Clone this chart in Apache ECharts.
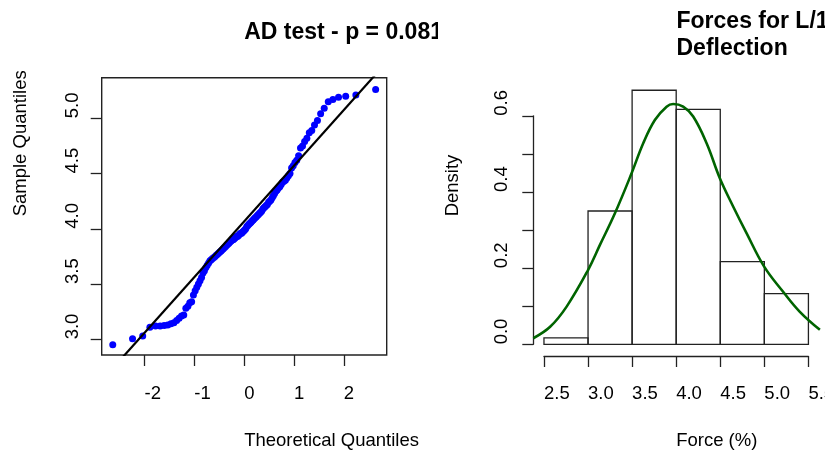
<!DOCTYPE html>
<html>
<head>
<meta charset="utf-8">
<script src="https://cdn.jsdelivr.net/npm/echarts@6/dist/echarts.min.js"></script>
<style>
html,body{margin:0;padding:0;background:#fff;}
#chart{width:825px;height:452px;}
</style>
</head>
<body>
<div id="chart"></div>
<script>
// ---------- data ----------
const qqTheoretical = [
-2.638,-2.241,-2.037,-1.893,-1.780,-1.687,-1.606,-1.534,-1.470,-1.411,
-1.356,-1.306,-1.258,-1.213,-1.171,-1.130,-1.092,-1.055,-1.019,-0.984,
-0.951,-0.919,-0.887,-0.856,-0.827,-0.798,-0.769,-0.742,-0.714,-0.687,
-0.661,-0.636,-0.610,-0.585,-0.561,-0.536,-0.512,-0.489,-0.465,-0.442,
-0.419,-0.396,-0.374,-0.352,-0.330,-0.308,-0.286,-0.264,-0.243,-0.221,
-0.200,-0.179,-0.157,-0.136,-0.115,-0.094,-0.073,-0.052,-0.031,-0.010,
0.010,0.031,0.052,0.073,0.094,0.115,0.136,0.157,0.179,0.200,
0.221,0.243,0.264,0.286,0.308,0.330,0.352,0.374,0.396,0.419,
0.442,0.465,0.489,0.512,0.536,0.561,0.585,0.610,0.636,0.661,
0.687,0.714,0.742,0.769,0.798,0.827,0.856,0.887,0.919,0.951,
0.984,1.019,1.055,1.092,1.130,1.171,1.213,1.258,1.306,1.356,
1.411,1.470,1.534,1.606,1.687,1.780,1.893,2.037,2.241,2.638
];
const qqSample = [
2.95,3.005,3.03,3.11,3.12,3.12,3.125,3.13,3.14,3.15,
3.17,3.19,3.21,3.22,3.28,3.30,3.33,3.34,3.40,3.44,
3.47,3.50,3.53,3.56,3.60,3.62,3.65,3.67,3.69,3.71,
3.72,3.73,3.74,3.75,3.76,3.77,3.78,3.79,3.80,3.81,
3.82,3.83,3.84,3.85,3.86,3.87,3.88,3.89,3.90,3.90,
3.91,3.92,3.93,3.93,3.94,3.95,3.96,3.96,3.97,3.98,
3.99,4.00,4.02,4.03,4.04,4.05,4.06,4.07,4.08,4.09,
4.10,4.11,4.12,4.13,4.14,4.15,4.16,4.18,4.19,4.20,
4.21,4.22,4.24,4.25,4.26,4.28,4.30,4.32,4.34,4.35,
4.37,4.38,4.40,4.42,4.43,4.44,4.46,4.48,4.50,4.55,
4.57,4.60,4.62,4.66,4.73,4.75,4.79,4.82,4.87,4.89,
4.94,4.98,5.04,5.09,5.15,5.17,5.19,5.20,5.21,5.26
];
const qqLineIntercept = 4.067;
const qqLineSlope = 0.504;
const qqXTicks = [-2, -1, 0, 1, 2];
const qqYTicks = [3.0, 3.5, 4.0, 4.5, 5.0];

const histEdges = [2.5, 3.0, 3.5, 4.0, 4.5, 5.0, 5.5];
const histDensity = [0.017, 0.35, 0.667, 0.617, 0.217, 0.133];
const histYLabels = [0.0, 0.2, 0.4, 0.6];

const densX = [2.379,2.57,2.757,3.0,3.135,3.305,3.494,3.626,3.758,3.891,3.966,4.079,4.193,4.345,4.495,4.646,4.798,4.998,5.213,5.40,5.63];
const densY = [0.016,0.046,0.099,0.195,0.261,0.344,0.449,0.528,0.589,0.624,0.631,0.624,0.598,0.528,0.436,0.362,0.292,0.204,0.138,0.086,0.038];

const titleLeft = 'AD test - p = 0.081';
const titleRight = 'Forces for L/180\nDeflection';

// ---------- layout ----------
const FONT = 'Liberation Sans, Arial, sans-serif';
const FS = 18.5;
const INK = '#222';
const QG = {left: 101.7, top: 77.7, width: 285, height: 277.3};
const HG = {left: 533.3, top: 77.7, width: 285.7, height: 277.3};
const QX = [-2.86, 2.86], QY = [2.858, 5.367];
const HX = [2.379, 5.62], HY = [-0.028, 0.70];
const hx = v => HG.left + (v - HX[0]) / (HX[1] - HX[0]) * HG.width;
const hy = v => HG.top + (HY[1] - v) / (HY[1] - HY[0]) * HG.height;

const qqData = qqTheoretical.map((t, i) => [t, qqSample[i]]);
const qqLine = [QX[0] - 0.2, QX[1] + 0.2].map(t => [t, qqLineIntercept + qqLineSlope * t]);
const histData = histDensity.map((d, i) => [histEdges[i], histEdges[i + 1], d]);
const densData = densX.map((x, i) => [x, densY[i]]);

const txt = {fontFamily: FONT, fontSize: FS, color: '#000'};
const tickStyle = {color: INK, width: 1.3};
const noLine = {show: false, onZero: false};

const chart = echarts.init(document.getElementById('chart'), null, {renderer: 'canvas'});
chart.setOption({
  backgroundColor: '#fff',
  animation: false,
  title: [
    {text: titleLeft, left: 244.2, top: 21, padding: 0,
     textStyle: {fontFamily: FONT, fontSize: 23, fontWeight: 'bold', color: '#000'}},
    {text: titleRight, left: 676.5, top: 8, padding: 0,
     textStyle: {fontFamily: FONT, fontSize: 23, fontWeight: 'bold', color: '#000', lineHeight: 27}}
  ],
  graphic: [
    {type: 'rect', z: 100, shape: {x: 438, y: 12, width: 60, height: 36}, style: {fill: '#fff'}}
  ],
  grid: [
    Object.assign({show: true, borderColor: INK, borderWidth: 1.4, backgroundColor: 'transparent', outerBoundsMode: 'none', containLabel: false}, QG),
    Object.assign({show: false, outerBoundsMode: 'none', containLabel: false}, HG),
    {left: hx(2.5), width: hx(5.5) - hx(2.5), top: 355, height: 1, outerBoundsMode: 'none', containLabel: false},
    {left: HG.left, width: 1, top: hy(0.6), height: hy(0) - hy(0.6), outerBoundsMode: 'none', containLabel: false}
  ],
  xAxis: [
    {gridIndex: 0, type: 'value', min: QX[0], max: QX[1], position: 'bottom',
     axisLine: noLine, splitLine: {show: false},
     axisTick: {show: true, customValues: qqXTicks, length: 11, lineStyle: tickStyle},
     axisLabel: Object.assign({customValues: qqXTicks, align: 'left', verticalAlign: 'top', margin: 29.5}, txt),
     name: 'Theoretical Quantiles', nameLocation: 'middle', nameGap: 76, nameMoveOverlap: false,
     nameTextStyle: Object.assign({align: 'left', verticalAlign: 'top'}, txt)},
    {gridIndex: 1, type: 'value', min: HX[0], max: HX[1], position: 'bottom',
     axisLine: noLine, axisTick: {show: false}, axisLabel: {show: false}, splitLine: {show: false},
     name: 'Force (%)', nameLocation: 'middle', nameGap: 76, nameMoveOverlap: false,
     nameTextStyle: Object.assign({align: 'left', verticalAlign: 'top'}, txt)},
    {gridIndex: 2, type: 'value', min: 2.5, max: 5.5, interval: 0.5, position: 'bottom',
     axisLine: {show: true, onZero: false, lineStyle: tickStyle}, splitLine: {show: false},
     axisTick: {show: true, length: 11, lineStyle: tickStyle},
     axisLabel: Object.assign({align: 'left', verticalAlign: 'top', margin: 28.5, showMinLabel: true, showMaxLabel: true,
       formatter: v => v.toFixed(1)}, txt)},
    {gridIndex: 3, type: 'value', show: false}
  ],
  yAxis: [
    {gridIndex: 0, type: 'value', min: QY[0], max: QY[1], position: 'left',
     axisLine: noLine, splitLine: {show: false},
     axisTick: {show: true, customValues: qqYTicks, length: 11, lineStyle: tickStyle},
     axisLabel: Object.assign({customValues: qqYTicks, rotate: 90, align: 'left', verticalAlign: 'bottom', margin: 19,
       formatter: v => v.toFixed(1)}, txt),
     name: 'Sample Quantiles', nameLocation: 'middle', nameGap: 71, nameRotate: 90, nameMoveOverlap: false,
     nameTextStyle: Object.assign({align: 'left', verticalAlign: 'bottom'}, txt)},
    {gridIndex: 1, type: 'value', min: HY[0], max: HY[1], position: 'left',
     axisLine: noLine, axisTick: {show: false}, axisLabel: {show: false}, splitLine: {show: false},
     name: 'Density', nameLocation: 'middle', nameGap: 71, nameRotate: 90, nameMoveOverlap: false,
     nameTextStyle: Object.assign({align: 'left', verticalAlign: 'bottom'}, txt)},
    {gridIndex: 2, type: 'value', show: false},
    {gridIndex: 3, type: 'value', min: 0, max: 0.6, interval: 0.1, position: 'left',
     axisLine: {show: true, onZero: false, lineStyle: tickStyle}, splitLine: {show: false},
     axisTick: {show: true, length: 11, lineStyle: tickStyle},
     axisLabel: Object.assign({customValues: histYLabels, rotate: 90, align: 'left', verticalAlign: 'bottom', margin: 22,
       formatter: v => v.toFixed(1)}, txt)}
  ],
  series: [
    {type: 'scatter', xAxisIndex: 0, yAxisIndex: 0, data: qqData, symbol: 'circle', symbolSize: 7,
     itemStyle: {color: '#0000ff', opacity: 1}, z: 3},
    {type: 'line', xAxisIndex: 0, yAxisIndex: 0, data: qqLine, showSymbol: false, clip: true,
     lineStyle: {color: '#000', width: 2.2}, z: 4},
    {type: 'custom', xAxisIndex: 1, yAxisIndex: 1, data: histData, clip: false,
     renderItem: (params, api) => {
       const p0 = api.coord([api.value(0), 0]);
       const p1 = api.coord([api.value(1), api.value(2)]);
       return {type: 'rect',
         shape: {x: p0[0], y: p1[1], width: p1[0] - p0[0], height: p0[1] - p1[1]},
         style: {fill: 'transparent', stroke: INK, lineWidth: 1.3}};
     }, z: 2},
    {type: 'line', xAxisIndex: 1, yAxisIndex: 1, data: densData, smooth: 0.4, showSymbol: false, clip: true,
     lineStyle: {color: '#006400', width: 2.6}, z: 5}
  ]
});
</script>
</body>
</html>
